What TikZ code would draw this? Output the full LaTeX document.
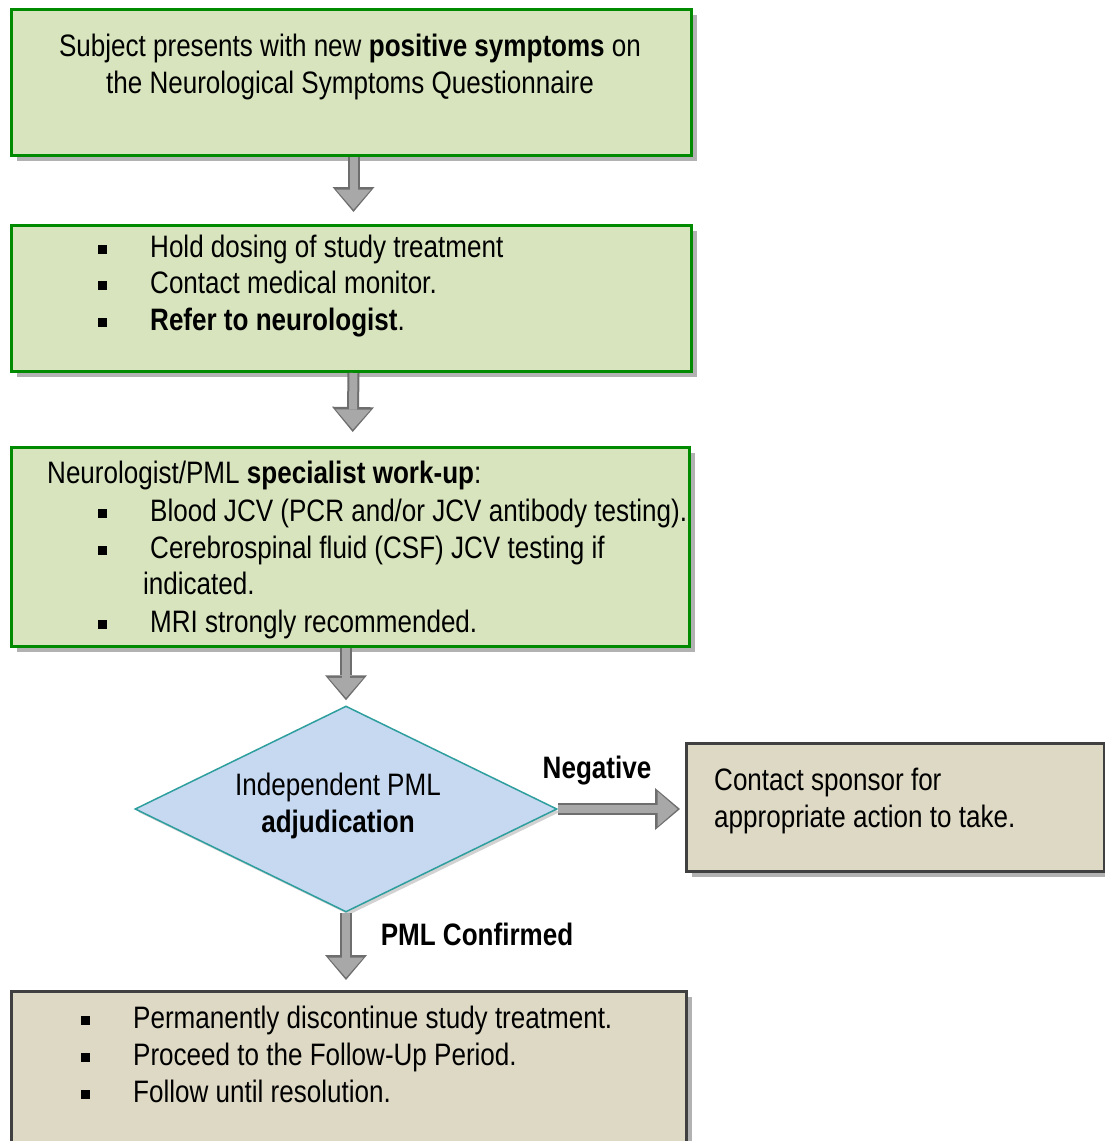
\documentclass[tikz,border=0pt]{standalone}
\usepackage{fontspec}
\setmainfont{Liberation Sans}[FakeStretch=0.84]
\usetikzlibrary{shapes.geometric,arrows.meta,shadows,calc}
\definecolor{gfill}{HTML}{D7E4BD}
\definecolor{gline}{HTML}{008A00}
\definecolor{tfill}{HTML}{DDD9C4}
\definecolor{tline}{HTML}{404040}
\definecolor{dfill}{HTML}{C6D9F1}
\definecolor{dline}{HTML}{2E9E9E}
\definecolor{aout}{HTML}{6E6E6E}
\definecolor{ain}{HTML}{A8A8A8}
\newcommand{\bul}{\makebox[52pt][l]{\raisebox{3.5pt}{\rule{8.5pt}{9pt}}}}
\begin{document}
\begin{tikzpicture}[x=1pt,y=-1pt,
  font=\fontsize{31}{37}\selectfont,
  box/.style={draw, line width=3pt, anchor=north west, inner sep=0pt,
    drop shadow={shadow xshift=5pt,shadow yshift=-5pt,fill=gray!60,opacity=1}},
  gbox/.style={box, fill=gfill, draw=gline},
  tbox/.style={box, fill=tfill, draw=tline},
  txt/.style={anchor=base west, inner sep=0pt},
  ctxt/.style={anchor=base, inner sep=0pt},
  barrow/.style={draw=ain, line width=8pt,
    -{Triangle[width=35pt,length=20pt,line width=0pt]}, shorten >=#1+2.5pt,
    preaction={draw=aout, line width=12pt,
      -{Triangle[width=42pt,length=25pt,line width=0pt]}, shorten >=#1}},
]
\useasboundingbox (0,0) rectangle (1105,1141);
\clip (0,0) rectangle (1105,1141);

% boxes
\node[gbox, minimum width=680pt, minimum height=146pt] (b1) at (10,8) {};
\node[gbox, minimum width=680pt, minimum height=146pt] (b2) at (10,224) {};
\node[gbox, minimum width=678pt, minimum height=199pt] (b3) at (10,446) {};
\node[diamond, draw=dline, fill=dfill, line width=1.5pt, inner sep=0pt,
      minimum width=422pt, minimum height=206pt,
      drop shadow={shadow xshift=3pt,shadow yshift=-3pt,fill=gray!35,opacity=1}] (d) at (346,809) {};
\node[tbox, minimum width=418pt, minimum height=128pt] (t) at (685,742) {};
\node[tbox, minimum width=675pt, minimum height=170pt] (b5) at (10,990) {};

% texts box 1
\node[ctxt] (l11) at (350,56) {Subject presents with new \textbf{positive symptoms} on};
\node[ctxt] (l12) at (350,93) {the Neurological Symptoms Questionnaire};

% texts box 2
\node[txt] (l21) at (98,257) {\bul Hold dosing of study treatment};
\node[txt] (l22) at (98,293) {\bul Contact medical monitor.};
\node[txt] (l23) at (98,330) {\bul \textbf{Refer to neurologist}.};

% texts box 3
\node[txt] (l31) at (47,483) {Neurologist/PML \textbf{specialist work-up}:};
\node[txt] (l32) at (98,521) {\bul Blood JCV (PCR and/or JCV antibody testing).};
\node[txt] (l33) at (98,558) {\bul Cerebrospinal fluid (CSF) JCV testing if};
\node[txt] (l34) at (143,594) {indicated.};
\node[txt] (l35) at (98,632) {\bul MRI strongly recommended.};

% diamond texts
\node[ctxt] (ld1) at (338,795) {Independent PML};
\node[ctxt] (ld2) at (338,832) {\textbf{adjudication}};

% labels
\node[ctxt] (neg) at (597,778) {\textbf{Negative}};
\node[ctxt] (conf) at (477,945) {\textbf{PML Confirmed}};

% tan box texts
\node[txt] (lt1) at (714,790) {Contact sponsor for};
\node[txt] (lt2) at (714,827) {appropriate action to take.};

% bottom box texts
\node[txt] (l51) at (81,1028) {\bul Permanently discontinue study treatment.};
\node[txt] (l52) at (81,1065) {\bul Proceed to the Follow-Up Period.};
\node[txt] (l53) at (81,1102) {\bul Follow until resolution.};

% connectors
\draw[barrow=12pt] ([xshift=2pt]b1.south) -- ([xshift=2pt]b2.north);
\draw[barrow=14pt] ([xshift=2pt]b2.south) -- ([xshift=2pt]b3.north);
\draw[barrow=5pt] (b3.south -| d.north) -- (d.north);
\draw[barrow=5pt] (d.east) -- (d.east -| t.west);
\draw[barrow=10pt] (d.south) -- (d.south |- b5.north);
\end{tikzpicture}
\end{document}
